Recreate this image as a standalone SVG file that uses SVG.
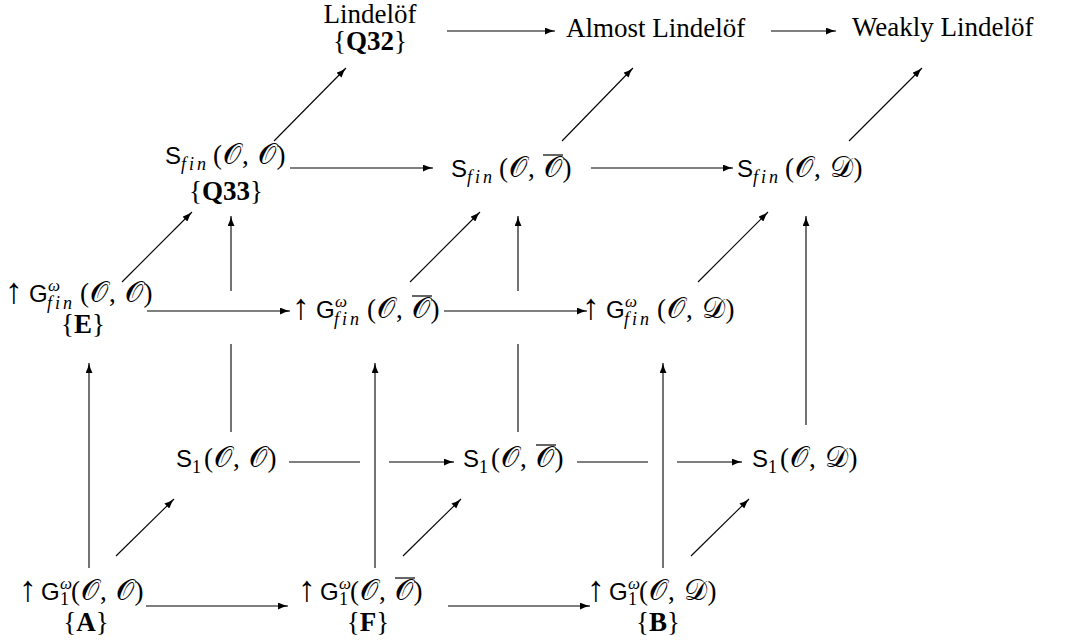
<svg xmlns="http://www.w3.org/2000/svg" width="1070" height="641" viewBox="0 0 1070 641">
<defs>
<marker id="ah" viewBox="0 0 10 7" refX="10" refY="3.5" markerWidth="10" markerHeight="7" markerUnits="userSpaceOnUse" orient="auto">
<path d="M0,0 Q5,2.6 10,3.5 Q5,4.4 0,7 z" fill="#000"/>
</marker>
<style>
.rm{font-family:"Liberation Serif",serif;font-size:27px;fill:#000}
.bf{font-weight:bold}
.m{font-family:"Liberation Serif",serif;font-size:27px;fill:#000}
.up{font-size:36px}
.sf{font-family:"Liberation Sans",sans-serif;font-size:24px}
.sub{font-size:18px;font-style:italic;letter-spacing:3px}
.num{font-size:18px;font-style:normal}
.sup{font-size:17px;font-style:italic}
.arg{font-size:27px;letter-spacing:1px}
.cal{font-family:"DejaVu Serif","DejaVu Sans","Noto Sans",serif;font-style:normal;font-size:29px}
.ovl{stroke:#000;stroke-width:1.2}
.edge line{stroke:#000;stroke-width:1.1;fill:none}
.edge line.a{marker-end:url(#ah)}
</style>
</defs>
<rect width="1070" height="641" fill="#fff"/>

<g id="connectors" class="edge">
<line class="a" x1="447" y1="31" x2="555" y2="31"/>
<line class="a" x1="771" y1="31" x2="836" y2="31"/>
<line class="a" x1="274" y1="141" x2="346" y2="68"/>
<line class="a" x1="562" y1="141" x2="633" y2="68"/>
<line class="a" x1="849" y1="141" x2="922" y2="68"/>
<line class="a" x1="290" y1="168" x2="433" y2="168"/>
<line class="a" x1="591" y1="168" x2="733" y2="168"/>
<line class="a" x1="122" y1="282" x2="192" y2="212"/>
<line class="a" x1="410" y1="282" x2="480" y2="212"/>
<line class="a" x1="698" y1="282" x2="768" y2="212"/>
<line class="a" x1="231" y1="291" x2="231" y2="216"/>
<line x1="231" y1="432" x2="231" y2="344"/>
<line class="a" x1="518" y1="291" x2="518" y2="216"/>
<line x1="518" y1="432" x2="518" y2="344"/>
<line class="a" x1="806" y1="425" x2="806" y2="216"/>
<line class="a" x1="147" y1="311" x2="290" y2="311"/>
<line class="a" x1="444" y1="311" x2="587" y2="311"/>
<line class="a" x1="89" y1="568" x2="89" y2="363"/>
<line class="a" x1="375" y1="568" x2="375" y2="363"/>
<line class="a" x1="663" y1="568" x2="663" y2="363"/>
<line x1="289" y1="462" x2="360" y2="462"/>
<line class="a" x1="389" y1="462" x2="454" y2="462"/>
<line x1="577" y1="462" x2="648" y2="462"/>
<line class="a" x1="677" y1="462" x2="742" y2="462"/>
<line class="a" x1="116" y1="556" x2="174" y2="499"/>
<line class="a" x1="403" y1="556" x2="461" y2="499"/>
<line class="a" x1="691" y1="556" x2="749" y2="499"/>
<line class="a" x1="146" y1="606" x2="288" y2="606"/>
<line class="a" x1="448" y1="606" x2="590" y2="606"/>
</g>

<g id="n-lindelof">
<text class="rm" x="370" y="23" text-anchor="middle">Lindelöf</text>
<text class="rm" x="370" y="50" text-anchor="middle">{<tspan class="bf">Q32</tspan>}</text>
</g>
<g id="n-almost">
<text class="rm" x="566" y="37">Almost Lindelöf</text>
</g>
<g id="n-weakly">
<text class="rm" x="852" y="36">Weakly Lindelöf</text>
</g>

<g id="n-sfin-oo">
<text class="m" x="165" y="164"><tspan class="sf">S</tspan><tspan class="sub" x="181" y="170">fin</tspan><tspan class="arg" x="213" y="164">(<tspan class="cal">𝒪</tspan>, <tspan class="cal">𝒪</tspan>)</tspan></text>
<text class="rm" x="226" y="200" text-anchor="middle">{<tspan class="bf">Q33</tspan>}</text>
</g>
<g id="n-sfin-ocl">
<text class="m" x="451" y="177"><tspan class="sf">S</tspan><tspan class="sub" x="467" y="183">fin</tspan><tspan class="arg" x="499" y="177">(<tspan class="cal">𝒪</tspan>, <tspan class="cal">𝒪</tspan>)</tspan></text>
<line class="ovl" x1="543" y1="155" x2="563" y2="155"/>
</g>
<g id="n-sfin-od">
<text class="m" x="737" y="177"><tspan class="sf">S</tspan><tspan class="sub" x="753" y="183">fin</tspan><tspan class="arg" x="785" y="177">(<tspan class="cal">𝒪</tspan>, <tspan class="cal">𝒟</tspan>)</tspan></text>
</g>

<g id="n-gfin-oo">
<text class="m" x="5" y="303"><tspan class="up">↑</tspan><tspan class="sf" x="29" y="302">G</tspan><tspan class="sup" x="48" y="291">ω</tspan><tspan class="sub" x="47" y="309">fin</tspan><tspan class="arg" x="80" y="302">(<tspan class="cal">𝒪</tspan>, <tspan class="cal">𝒪</tspan>)</tspan></text>
<text class="rm" x="83" y="333" text-anchor="middle">{<tspan class="bf">E</tspan>}</text>
</g>
<g id="n-gfin-ocl">
<text class="m" x="292" y="319"><tspan class="up">↑</tspan><tspan class="sf" x="316" y="318">G</tspan><tspan class="sup" x="335" y="307">ω</tspan><tspan class="sub" x="334" y="325">fin</tspan><tspan class="arg" x="367" y="318">(<tspan class="cal">𝒪</tspan>, <tspan class="cal">𝒪</tspan>)</tspan></text>
<line class="ovl" x1="412" y1="296" x2="432" y2="296"/>
</g>
<g id="n-gfin-od">
<text class="m" x="582" y="319"><tspan class="up">↑</tspan><tspan class="sf" x="606" y="318">G</tspan><tspan class="sup" x="625" y="307">ω</tspan><tspan class="sub" x="624" y="325">fin</tspan><tspan class="arg" x="657" y="318">(<tspan class="cal">𝒪</tspan>, <tspan class="cal">𝒟</tspan>)</tspan></text>
</g>

<g id="n-s1-oo">
<text class="m" x="176" y="467"><tspan class="sf">S</tspan><tspan class="num" x="192" y="473">1</tspan><tspan class="arg" x="204" y="467">(<tspan class="cal">𝒪</tspan>, <tspan class="cal">𝒪</tspan>)</tspan></text>
</g>
<g id="n-s1-ocl">
<text class="m" x="463" y="467"><tspan class="sf">S</tspan><tspan class="num" x="479" y="473">1</tspan><tspan class="arg" x="491" y="467">(<tspan class="cal">𝒪</tspan>, <tspan class="cal">𝒪</tspan>)</tspan></text>
<line class="ovl" x1="536" y1="445" x2="556" y2="445"/>
</g>
<g id="n-s1-od">
<text class="m" x="752" y="467"><tspan class="sf">S</tspan><tspan class="num" x="768" y="473">1</tspan><tspan class="arg" x="780" y="467">(<tspan class="cal">𝒪</tspan>, <tspan class="cal">𝒟</tspan>)</tspan></text>
</g>

<g id="n-g1-oo">
<text class="m" x="19" y="601"><tspan class="up">↑</tspan><tspan class="sf" x="41" y="600">G</tspan><tspan class="sup" x="60" y="589">ω</tspan><tspan class="num" x="60" y="605">1</tspan><tspan class="arg" x="71" y="600">(<tspan class="cal">𝒪</tspan>, <tspan class="cal">𝒪</tspan>)</tspan></text>
<text class="rm" x="86" y="631" text-anchor="middle">{<tspan class="bf">A</tspan>}</text>
</g>
<g id="n-g1-ocl">
<text class="m" x="298" y="601"><tspan class="up">↑</tspan><tspan class="sf" x="320" y="600">G</tspan><tspan class="sup" x="339" y="589">ω</tspan><tspan class="num" x="339" y="605">1</tspan><tspan class="arg" x="350" y="600">(<tspan class="cal">𝒪</tspan>, <tspan class="cal">𝒪</tspan>)</tspan></text>
<line class="ovl" x1="395" y1="578" x2="415" y2="578"/>
<text class="rm" x="368" y="631" text-anchor="middle">{<tspan class="bf">F</tspan>}</text>
</g>
<g id="n-g1-od">
<text class="m" x="587" y="601"><tspan class="up">↑</tspan><tspan class="sf" x="609" y="600">G</tspan><tspan class="sup" x="628" y="589">ω</tspan><tspan class="num" x="628" y="605">1</tspan><tspan class="arg" x="639" y="600">(<tspan class="cal">𝒪</tspan>, <tspan class="cal">𝒟</tspan>)</tspan></text>
<text class="rm" x="658" y="631" text-anchor="middle">{<tspan class="bf">B</tspan>}</text>
</g>
</svg>
